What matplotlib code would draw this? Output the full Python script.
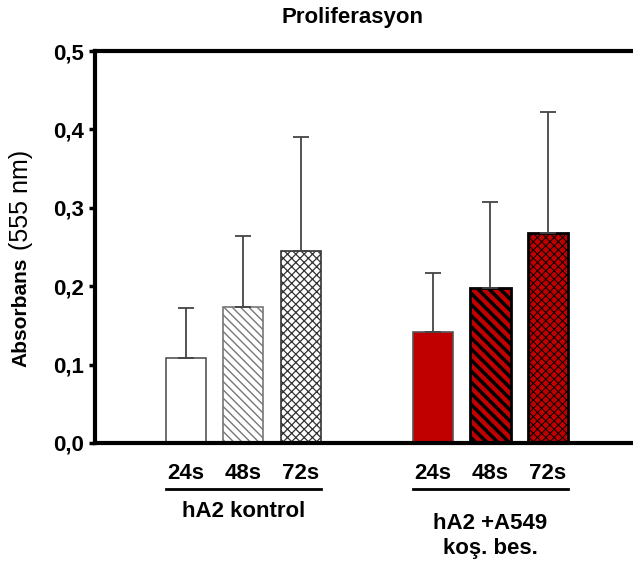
import matplotlib
matplotlib.use("Agg")
import matplotlib.pyplot as plt
from matplotlib.ticker import FixedLocator, FixedFormatter

plt.rcParams["font.family"] = ["Liberation Sans", "DejaVu Sans"]

# data
time_labels  = ["24s", "48s", "72s"]
group_labels = ["hA2 kontrol", "hA2 +A549\nkoş. bes."]
ctrl_means   = [0.108, 0.173, 0.245]
ctrl_err     = [0.064, 0.091, 0.145]
cocul_means  = [0.142, 0.198, 0.268]
cocul_err    = [0.075, 0.109, 0.154]
yticks       = [0.0, 0.1, 0.2, 0.3, 0.4, 0.5]
ytick_labels = ["0,0", "0,1", "0,2", "0,3", "0,4", "0,5"]

ctrl_x  = [0, 1, 2]
cocul_x = [4.3, 5.3, 6.3]
WIDTH   = 0.70
RED     = "#C00000"

fig = plt.figure(figsize=(6.33, 5.67), dpi=100)
ax = fig.add_axes([0.150, 0.2187, 0.850, 0.6913])

ctrl_style = [
    dict(color="white", edgecolor="#555555", hatch=None, hlw=1.0),
    dict(color="white", edgecolor="#777777", hatch="\\\\\\\\", hlw=1.0),
    dict(color="white", edgecolor="#333333", hatch="xxxx", hlw=0.9),
]
cocul_style = [
    dict(color=RED, edgecolor="#555555", hatch=None, hlw=1.0),
    dict(color=RED, edgecolor="black", hatch="\\\\\\", hlw=2.5),
    dict(color=RED, edgecolor="black", hatch="xxxx", hlw=0.7),
]

for xs, means, errs, styles in [(ctrl_x, ctrl_means, ctrl_err, ctrl_style),
                                (cocul_x, cocul_means, cocul_err, cocul_style)]:
    for x, m, e, st in zip(xs, means, errs, styles):
        lw = 2.0 if st["edgecolor"] == "black" else 1.2
        with plt.rc_context({"hatch.linewidth": st["hlw"]}):
            bar = ax.bar(x, m, WIDTH, color=st["color"], edgecolor=st["edgecolor"],
                         linewidth=lw, hatch=st["hatch"], zorder=2)
            for p in bar:
                if hasattr(p, "set_hatch_linewidth"):
                    p.set_hatch_linewidth(st["hlw"])
        ax.errorbar(x, m, yerr=[[0], [e]], fmt="none", ecolor="#444444",
                    elinewidth=1.3, capsize=6, capthick=1.3, zorder=3)

ax.set_xlim(-1.58, 7.78)
ax.set_ylim(0, 0.5)

for side in ["left", "bottom", "top"]:
    ax.spines[side].set_linewidth(3)
ax.spines["right"].set_visible(False)

ax.yaxis.set_major_locator(FixedLocator(yticks))
ax.yaxis.set_major_formatter(FixedFormatter(ytick_labels))
ax.tick_params(axis="y", direction="out", length=4, width=2.5, pad=4,
               labelsize=16)
for lab in ax.get_yticklabels():
    lab.set_fontweight("bold")
ax.set_xticks([])

trans = ax.get_xaxis_transform()
for xs, glabel, gy in [(ctrl_x, group_labels[0], -0.176),
                       (cocul_x, group_labels[1], -0.237)]:
    for x, t in zip(xs, time_labels):
        ax.text(x, -0.079, t, transform=trans, ha="center", va="center",
                fontsize=16, fontweight="bold")
    ax.plot([xs[0] - WIDTH / 2, xs[-1] + WIDTH / 2], [-0.117, -0.117],
            transform=trans, color="black", lw=2, clip_on=False)
    ax.text((xs[0] + xs[-1]) / 2, gy, glabel, transform=trans, ha="center",
            va="center", fontsize=16, fontweight="bold", linespacing=1.25)

# y label: bold word + regular unit
fig.text(21 / 633, 1 - 312 / 567, "Absorbans", rotation=90, ha="center",
         va="center", fontsize=15, fontweight="bold")
fig.text(21 / 633, 1 - 200 / 567, "(555 nm)", rotation=90, ha="center",
         va="center", fontsize=18)
fig.text(353 / 633, 1 - 17 / 567, "Proliferasyon", ha="center", va="center",
         fontsize=16, fontweight="bold")

fig.savefig("out.png", dpi=100)
